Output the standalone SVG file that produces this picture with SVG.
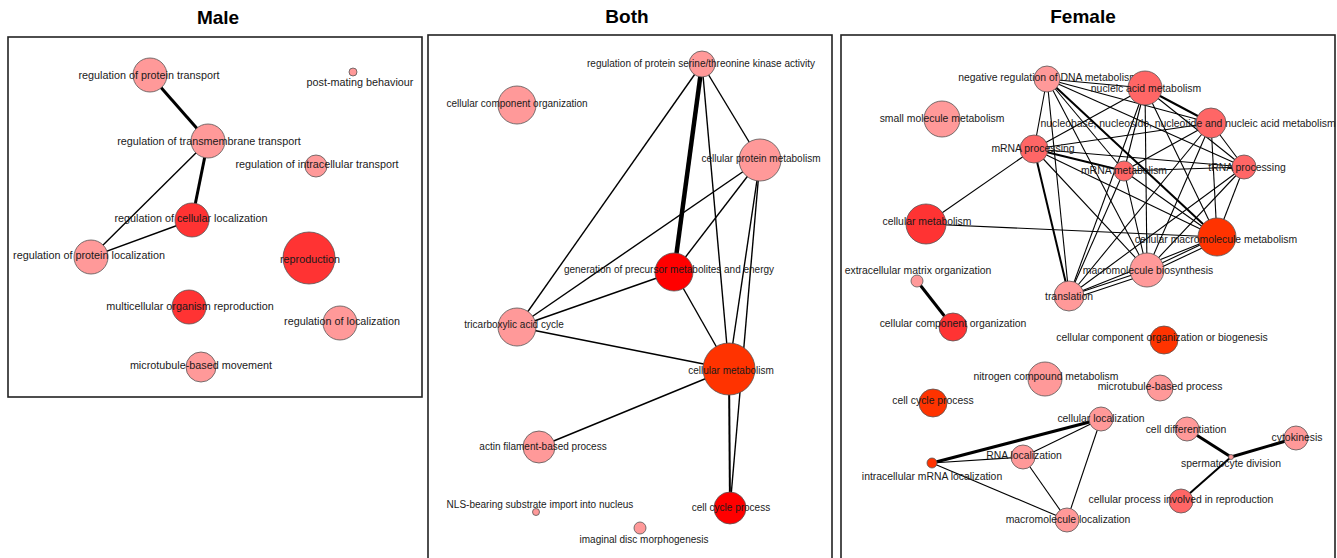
<svg xmlns="http://www.w3.org/2000/svg" width="1337" height="558" viewBox="0 0 1337 558">
<style>
.title{font-family:"Liberation Sans",Arial,sans-serif;font-weight:bold;font-size:19px;fill:#000;text-anchor:middle}
.panel{fill:#fff;stroke:#222;stroke-width:1.6}
.n circle{stroke:#555;stroke-width:0.8}
.n text{font-family:"Liberation Sans",Arial,sans-serif;fill:#1a1a1a;text-anchor:middle}
.m text{font-size:10.8px}
.b text{font-size:10px}
.f text{font-size:10.4px}
.c1{fill:#ff9999}.c2{fill:#ff6666}.c3{fill:#ff3333}.c4{fill:#ff0000}.c5{fill:#ff3300}
.e line{stroke:#000;stroke-width:1.1;fill:none}
.e .bt{stroke-width:1.4}
.e .w2{stroke-width:2}
.e .w3{stroke-width:3}
.e .w5{stroke-width:4.5}
</style>
<rect width="1337" height="558" fill="#fff"/>
<text class="title" x="218" y="24">Male</text>
<text class="title" x="627" y="23">Both</text>
<text class="title" x="1083" y="23">Female</text>
<rect class="panel" x="8" y="37" width="414" height="360"/>
<rect class="panel" x="428" y="35" width="404" height="530"/>
<rect class="panel" x="841" y="35" width="494" height="530"/>

<g id="connectors" class="e">
<!-- Male -->
<line class="w3" x1="150" y1="75" x2="208" y2="141"/>
<line class="w3" x1="208" y1="141" x2="192" y2="220"/>
<line class="bt" x1="208" y1="141" x2="91" y2="257"/>
<line class="bt" x1="91" y1="257" x2="192" y2="220"/>
<!-- Both -->
<line class="w5" x1="702" y1="64" x2="674" y2="272"/>
<line class="bt" x1="702" y1="64" x2="517" y2="327"/>
<line class="bt" x1="702" y1="64" x2="760" y2="160"/>
<line class="bt" x1="702" y1="64" x2="729" y2="369"/>
<line class="bt" x1="760" y1="160" x2="517" y2="327"/>
<line class="bt" x1="760" y1="160" x2="674" y2="272"/>
<line class="bt" x1="760" y1="160" x2="729" y2="369"/>
<line class="bt" x1="760" y1="160" x2="730" y2="508"/>
<line class="bt" x1="517" y1="327" x2="674" y2="272"/>
<line class="bt" x1="517" y1="327" x2="729" y2="369"/>
<line class="bt" x1="674" y1="272" x2="729" y2="369"/>
<line class="bt" x1="729" y1="369" x2="539" y2="447"/>
<line class="w2" x1="729" y1="369" x2="730" y2="508"/>
<!-- Female cluster -->
<line x1="1047" y1="79" x2="1145" y2="88"/>
<line x1="1047" y1="79" x2="1211" y2="123"/>
<line x1="1047" y1="79" x2="1034" y2="149"/>
<line x1="1047" y1="79" x2="1124" y2="171"/>
<line x1="1047" y1="79" x2="1244" y2="167"/>
<line class="w2" x1="1047" y1="79" x2="1217" y2="237"/>
<line x1="1047" y1="79" x2="1147" y2="270"/>
<line x1="1047" y1="79" x2="1069" y2="296"/>
<line class="w2" x1="1145" y1="88" x2="1211" y2="123"/>
<line x1="1145" y1="88" x2="1034" y2="149"/>
<line x1="1145" y1="88" x2="1124" y2="171"/>
<line x1="1145" y1="88" x2="1244" y2="167"/>
<line x1="1145" y1="88" x2="1217" y2="237"/>
<line x1="1145" y1="88" x2="1147" y2="270"/>
<line x1="1145" y1="88" x2="1069" y2="296"/>
<line x1="1211" y1="123" x2="1034" y2="149"/>
<line x1="1211" y1="123" x2="1124" y2="171"/>
<line x1="1211" y1="123" x2="1244" y2="167"/>
<line x1="1211" y1="123" x2="1217" y2="237"/>
<line x1="1211" y1="123" x2="1147" y2="270"/>
<line x1="1211" y1="123" x2="1069" y2="296"/>
<line class="w2" x1="1034" y1="149" x2="1124" y2="171"/>
<line x1="1034" y1="149" x2="1244" y2="167"/>
<line x1="1034" y1="149" x2="1217" y2="237"/>
<line x1="1034" y1="149" x2="1147" y2="270"/>
<line class="w2" x1="1034" y1="149" x2="1069" y2="296"/>
<line x1="1034" y1="149" x2="926" y2="224"/>
<line x1="1124" y1="171" x2="1244" y2="167"/>
<line x1="1124" y1="171" x2="1217" y2="237"/>
<line x1="1124" y1="171" x2="1147" y2="270"/>
<line x1="1124" y1="171" x2="1069" y2="296"/>
<line x1="1244" y1="167" x2="1217" y2="237"/>
<line x1="1244" y1="167" x2="1147" y2="270"/>
<line x1="1244" y1="167" x2="1069" y2="296"/>
<line x1="1217" y1="237" x2="1147" y2="270"/>
<line x1="1217" y1="241" x2="1147" y2="274"/>
<line x1="1217" y1="237" x2="1069" y2="296"/>
<line x1="1217" y1="237" x2="926" y2="224"/>
<line x1="1147" y1="270" x2="1069" y2="296"/>
<line x1="1147" y1="274" x2="1069" y2="300"/>
<!-- Female other -->
<line class="w3" x1="917" y1="281" x2="953" y2="327"/>
<line class="w3" x1="932" y1="463" x2="1101" y2="419"/>
<line x1="932" y1="463" x2="1023" y2="457"/>
<line x1="1023" y1="457" x2="1101" y2="419"/>
<line x1="932" y1="463" x2="1067" y2="520"/>
<line x1="1023" y1="457" x2="1067" y2="520"/>
<line x1="1101" y1="419" x2="1067" y2="520"/>
<line class="w3" x1="1187" y1="429" x2="1231" y2="457"/>
<line class="w3" x1="1296" y1="438" x2="1231" y2="457"/>
<line class="w2" x1="1181" y1="501" x2="1231" y2="457"/>
</g>

<!-- Male nodes -->
<g id="m-prot-transport" class="n m"><circle class="c1" cx="150" cy="75" r="17"/><text x="149" y="79">regulation of protein transport</text></g>
<g id="m-post-mating" class="n m"><circle class="c1" cx="353" cy="72" r="4"/><text x="360" y="86">post-mating behaviour</text></g>
<g id="m-transmembrane" class="n m"><circle class="c1" cx="208" cy="141" r="17"/><text x="209" y="145">regulation of transmembrane transport</text></g>
<g id="m-intracellular" class="n m"><circle class="c1" cx="316" cy="166" r="11"/><text x="317" y="168">regulation of intracellular transport</text></g>
<g id="m-cell-loc" class="n m"><circle class="c3" cx="192" cy="220" r="17"/><text x="191" y="222">regulation of cellular localization</text></g>
<g id="m-prot-loc" class="n m"><circle class="c1" cx="91" cy="257" r="17"/><text x="89" y="259">regulation of protein localization</text></g>
<g id="m-reproduction" class="n m"><circle class="c3" cx="309" cy="258" r="26"/><text x="310" y="263">reproduction</text></g>
<g id="m-multicellular" class="n m"><circle class="c3" cx="189" cy="307" r="17"/><text x="190" y="310">multicellular organism reproduction</text></g>
<g id="m-reg-loc" class="n m"><circle class="c1" cx="340" cy="323" r="17"/><text x="342" y="325">regulation of localization</text></g>
<g id="m-microtubule" class="n m"><circle class="c1" cx="201" cy="367" r="15"/><text x="201" y="369">microtubule-based movement</text></g>

<!-- Both nodes -->
<g id="b-kinase" class="n b"><circle class="c1" cx="702" cy="64" r="13"/><text x="701" y="67">regulation of protein serine/threonine kinase activity</text></g>
<g id="b-cco" class="n b"><circle class="c1" cx="517" cy="105" r="19"/><text x="517" y="107">cellular component organization</text></g>
<g id="b-cpm" class="n b"><circle class="c1" cx="760" cy="160" r="21"/><text x="761" y="162">cellular protein metabolism</text></g>
<g id="b-gen" class="n b"><circle class="c4" cx="674" cy="272" r="19"/><text x="669" y="273">generation of precursor metabolites and energy</text></g>
<g id="b-tca" class="n b"><circle class="c1" cx="517" cy="327" r="19"/><text x="514" y="328">tricarboxylic acid cycle</text></g>
<g id="b-cm" class="n b"><circle class="c5" cx="729" cy="369" r="26"/><text x="731" y="374">cellular metabolism</text></g>
<g id="b-actin" class="n b"><circle class="c1" cx="539" cy="447" r="16"/><text x="543" y="450">actin filament-based process</text></g>
<g id="b-nls" class="n b"><circle class="c1" cx="536" cy="512" r="3.5"/><text x="540" y="508">NLS-bearing substrate import into nucleus</text></g>
<g id="b-imaginal" class="n b"><circle class="c1" cx="640" cy="528" r="6"/><text x="644" y="543">imaginal disc morphogenesis</text></g>
<g id="b-ccp" class="n b"><circle class="c4" cx="730" cy="508" r="16"/><text x="731" y="511">cell cycle process</text></g>

<!-- Female nodes -->
<g id="f-small" class="n f"><circle class="c1" cx="942" cy="119" r="18"/><text x="942" y="122">small molecule metabolism</text></g>
<g id="f-nrd" class="n f"><circle class="c1" cx="1047" cy="79" r="13"/><text x="1048" y="81">negative regulation of DNA metabolism</text></g>
<g id="f-nam" class="n f"><circle class="c2" cx="1145" cy="88" r="17"/><text x="1146" y="92">nucleic acid metabolism</text></g>
<g id="f-nnn" class="n f"><circle class="c2" cx="1211" cy="123" r="15"/><text x="1188" y="127">nucleobase, nucleoside, nucleotide and nucleic acid metabolism</text></g>
<g id="f-mrnap" class="n f"><circle class="c2" cx="1034" cy="149" r="14"/><text x="1033" y="152">mRNA processing</text></g>
<g id="f-mrnam" class="n f"><circle class="c2" cx="1124" cy="171" r="10"/><text x="1124" y="174">mRNA metabolism</text></g>
<g id="f-trna" class="n f"><circle class="c2" cx="1244" cy="167" r="12"/><text x="1247" y="171">tRNA processing</text></g>
<g id="f-cm" class="n f"><circle class="c3" cx="926" cy="224" r="20"/><text x="927" y="225">cellular metabolism</text></g>
<g id="f-cmm" class="n f"><circle class="c5" cx="1217" cy="237" r="19"/><text x="1216" y="243">cellular macromolecule metabolism</text></g>
<g id="f-ecm" class="n f"><circle class="c1" cx="917" cy="281" r="6"/><text x="918" y="274">extracellular matrix organization</text></g>
<g id="f-mb" class="n f"><circle class="c1" cx="1147" cy="270" r="17"/><text x="1148" y="274">macromolecule biosynthesis</text></g>
<g id="f-translation" class="n f"><circle class="c1" cx="1069" cy="296" r="15"/><text x="1069" y="300">translation</text></g>
<g id="f-cco" class="n f"><circle class="c3" cx="953" cy="327" r="14"/><text x="953" y="327">cellular component organization</text></g>
<g id="f-ccob" class="n f"><circle class="c5" cx="1164" cy="340" r="14"/><text x="1162" y="341">cellular component organization or biogenesis</text></g>
<g id="f-nitrogen" class="n f"><circle class="c1" cx="1045" cy="379" r="17"/><text x="1046" y="380">nitrogen compound metabolism</text></g>
<g id="f-mtb" class="n f"><circle class="c1" cx="1160" cy="388" r="13"/><text x="1160" y="390">microtubule-based process</text></g>
<g id="f-ccp" class="n f"><circle class="c5" cx="933" cy="403" r="14"/><text x="933" y="404">cell cycle process</text></g>
<g id="f-cl" class="n f"><circle class="c1" cx="1101" cy="419" r="12"/><text x="1101" y="422">cellular localization</text></g>
<g id="f-cd" class="n f"><circle class="c1" cx="1187" cy="429" r="12"/><text x="1186" y="433">cell differentiation</text></g>
<g id="f-cyto" class="n f"><circle class="c1" cx="1296" cy="438" r="12"/><text x="1297" y="441">cytokinesis</text></g>
<g id="f-sperm" class="n f"><circle class="c1" cx="1231" cy="457" r="2.5"/><text x="1231" y="467">spermatocyte division</text></g>
<g id="f-rnaloc" class="n f"><circle class="c1" cx="1023" cy="457" r="12"/><text x="1024" y="459">RNA localization</text></g>
<g id="f-imrna" class="n f"><circle class="c5" cx="932" cy="463" r="5"/><text x="932" y="480">intracellular mRNA localization</text></g>
<g id="f-cpir" class="n f"><circle class="c2" cx="1181" cy="501" r="12"/><text x="1181" y="503">cellular process involved in reproduction</text></g>
<g id="f-ml" class="n f"><circle class="c1" cx="1067" cy="520" r="12"/><text x="1068" y="523">macromolecule localization</text></g>
</svg>
